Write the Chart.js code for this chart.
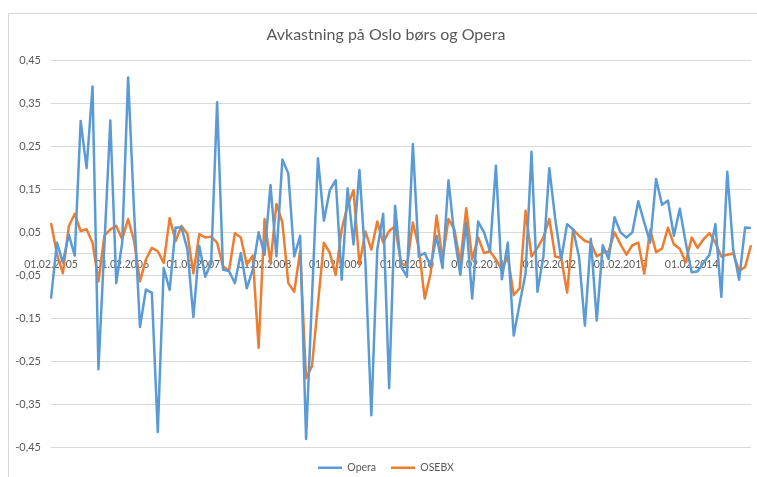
<!DOCTYPE html>
<html>
<head>
<meta charset="utf-8">
<title>Avkastning</title>
<script src="https://cdn.jsdelivr.net/npm/chart.js"></script>
<style>
html, body { margin: 0; padding: 0; background: #fff; overflow: hidden; }
#ramme { position: absolute; left: 8px; top: 13px; width: 760px; height: 470px; border: 1px solid #d9d9d9; }
#wrap { position: absolute; left: 0; top: 0; width: 772px; height: 477px; }
</style>
</head>
<body>
<div id="ramme"></div>
<div id="wrap"><canvas id="linjer"></canvas></div>
<script>
// månedlige datoer fra 01.02.2005
const startAar = 2005;
const startMnd = 2;
const antallMnd = 119;
const datoer = [];
for (let i = 0; i < antallMnd; i++) {
  const m = (startMnd - 1 + i) % 12 + 1;
  const aar = startAar + Math.floor((startMnd - 1 + i) / 12);
  datoer.push('01.' + String(m).padStart(2, '0') + '.' + aar);
}

const aarsEtiketter = ['01.02.2005','01.02.2006','01.02.2007','01.02.2008','01.02.2009',
                       '01.02.2010','01.02.2011','01.02.2012','01.02.2013','01.02.2014'];

const yVerdier = [-0.45,-0.35,-0.25,-0.15,-0.05,0.05,0.15,0.25,0.35,0.45];

const opera = [
  -0.104, 0.026, -0.02, 0.045, -0.004, 0.309, 0.199, 0.389, -0.268, 0.02,
  0.31, -0.068, 0.026, 0.41, 0.1, -0.17, -0.083, -0.09, -0.414, -0.033,
  -0.084, 0.061, 0.061, 0.01, -0.147, 0.018, -0.053, -0.021, 0.352, -0.037,
  -0.04, -0.068, 0.002, -0.08, -0.037, 0.05, -0.002, 0.16, -0.006, 0.219,
  0.187, -0.006, 0.042, -0.43, -0.1, 0.222, 0.077, 0.148, 0.171, -0.06,
  0.152, 0.022, 0.195, -0.02, -0.375, 0.01, 0.093, -0.312, 0.112, -0.029,
  -0.053, 0.255, -0.006, 0.002, -0.029, 0.042, -0.033, 0.171, 0.042, -0.049,
  0.073, -0.104, 0.075, 0.05, 0.006, 0.205, -0.059, 0.026, -0.19, -0.116,
  -0.045, 0.237, -0.088, -0.006, 0.199, 0.081, -0.013, 0.069, 0.057, -0.006,
  -0.167, 0.035, -0.155, 0.02, -0.012, 0.085, 0.05, 0.038, 0.05, 0.122,
  0.073, 0.026, 0.174, 0.114, 0.124, 0.042, 0.105, 0.026, -0.043, -0.041,
  -0.021, -0.002, 0.069, -0.1, 0.191, 0.01, -0.06, 0.061, 0.06
];

const osebx = [
  0.072, 0.0, -0.045, 0.064, 0.093, 0.053, 0.057, 0.026, -0.064, 0.042,
  0.057, 0.065, 0.034, 0.081, 0.03, -0.064, -0.013, 0.014, 0.006, -0.021,
  0.083, 0.03, 0.065, 0.046, -0.045, 0.046, 0.038, 0.04, 0.026, -0.029,
  -0.04, 0.048, 0.038, -0.025, -0.004, -0.218, 0.081, -0.021, 0.116, 0.073,
  -0.068, -0.088, 0.006, -0.289, -0.261, -0.116, 0.026, 0.002, -0.049, 0.057,
  0.112, 0.148, -0.025, 0.052, 0.01, 0.075, 0.026, 0.053, 0.064, -0.021,
  -0.029, 0.073, 0.014, -0.104, -0.045, 0.089, -0.013, 0.081, 0.057, -0.021,
  0.106, -0.013, 0.038, 0.002, 0.006, -0.013, -0.037, -0.006, -0.096, -0.08,
  0.1, -0.006, 0.014, 0.038, 0.081, -0.006, -0.009, -0.09, 0.057, 0.042,
  0.03, 0.026, -0.006, 0.002, 0.006, 0.05, 0.022, -0.002, 0.02, 0.026,
  -0.046, 0.056, 0.004, 0.012, 0.061, 0.022, 0.012, -0.02, 0.038, 0.014,
  0.034, 0.048, 0.026, -0.006, -0.002, 0.001, -0.039, -0.031, 0.02
];

const tekstFarge = '#595959';

new Chart(document.getElementById('linjer'), {
  type: 'line',
  data: {
    labels: datoer,
    datasets: [{
      label: 'Opera',
      data: opera,
      borderColor: '#5B9BD5',
      backgroundColor: '#5B9BD5',
      borderWidth: 2.5,
      pointRadius: 0,
      tension: 0,
      borderJoinStyle: 'round'
    }, {
      label: 'OSEBX',
      data: osebx,
      borderColor: '#ED7D31',
      backgroundColor: '#ED7D31',
      borderWidth: 2.5,
      pointRadius: 0,
      tension: 0,
      borderJoinStyle: 'round'
    }]
  },
  options: {
    responsive: true,
    maintainAspectRatio: false,
    animation: false,
    layout: { padding: { top: 13, right: 0, bottom: -6, left: 0 } },
    scales: {
      x: {
        position: { y: 0 },
        offset: false,
        grid: { display: false, drawTicks: false },
        border: { display: true, color: '#d9d9d9', width: 1 },
        ticks: {
          autoSkip: false,
          maxRotation: 0,
          minRotation: 0,
          padding: 4,
          color: tekstFarge,
          font: { family: 'Lato', size: 10.5 },
          callback: function(val) {
            const l = this.getLabelForValue(val);
            return aarsEtiketter.includes(l) ? l : null;
          }
        }
      },
      y: {
        min: -0.45,
        max: 0.45,
        afterBuildTicks: s => { s.ticks = yVerdier.map(v => ({ value: v })); },
        afterFit: s => { s.width = 51; },
        grid: { color: '#d9d9d9', drawTicks: false },
        border: { display: false },
        ticks: {
          padding: 10,
          color: tekstFarge,
          font: { family: 'Lato', size: 11 },
          callback: v => v.toFixed(2).replace('.', ',')
        }
      },
      // tom akse til høyre: holder plottet på plass mens tittel/forklaring sentreres i rammen
      hoyre: {
        position: 'right',
        display: true,
        grid: { display: false, drawTicks: false },
        border: { display: false },
        ticks: { display: false },
        afterFit: s => { s.width = 21; }
      }
    },
    plugins: {
      title: {
        display: true,
        text: 'Avkastning på Oslo børs og Opera',
        color: tekstFarge,
        font: { family: 'Lato', size: 16, weight: 400 },
        padding: { top: 12, bottom: 16 }
      },
      legend: {
        position: 'bottom',
        labels: {
          usePointStyle: true,
          pointStyle: 'line',
          pointStyleWidth: 24,
          padding: 15,
          color: tekstFarge,
          font: { family: 'Lato', size: 10.5 }
        }
      },
      tooltip: { enabled: false }
    }
  }
});
</script>
</body>
</html>
